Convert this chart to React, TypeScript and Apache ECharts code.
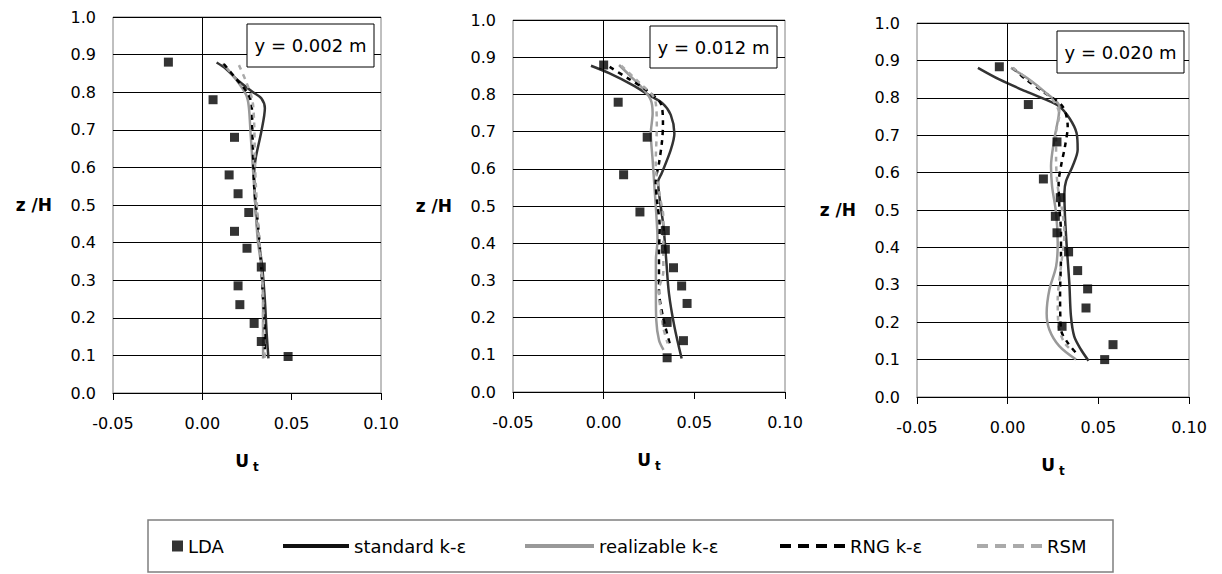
import React, { useEffect, useRef } from "react";
import * as echarts from "echarts";

// ---- data: [U_t, z/H] pairs ----
const panelTitles = ["y = 0.002 m", "y = 0.012 m", "y = 0.020 m"];
const seriesNames = ["LDA", "standard k-ε", "realizable k-ε", "RNG k-ε", "RSM"];
const xTicks = { min: -0.05, max: 0.1, interval: 0.05 };
const yTicks = { min: 0, max: 1, interval: 0.1 };

const lda1 = [[-0.019, 0.88], [0.006, 0.78], [0.018, 0.68], [0.015, 0.58], [0.02, 0.53], [0.026, 0.48], [0.018, 0.43], [0.025, 0.385], [0.033, 0.335], [0.02, 0.285], [0.021, 0.235], [0.029, 0.185], [0.033, 0.137], [0.048, 0.097]];
const std1 = [[0.008, 0.879], [0.013, 0.863], [0.019, 0.835], [0.028, 0.801], [0.033, 0.784], [0.035, 0.757], [0.033, 0.695], [0.03, 0.628], [0.029, 0.584], [0.0295, 0.513], [0.031, 0.425], [0.0335, 0.336], [0.035, 0.247], [0.036, 0.159], [0.037, 0.092]];
const real1 = [[0.0115, 0.876], [0.019, 0.833], [0.0245, 0.793], [0.026, 0.762], [0.027, 0.691], [0.028, 0.62], [0.029, 0.549], [0.03, 0.478], [0.031, 0.407], [0.033, 0.336], [0.034, 0.247], [0.034, 0.159], [0.034, 0.092]];
const rng1 = [[0.012, 0.875], [0.019, 0.835], [0.025, 0.8], [0.0275, 0.77], [0.028, 0.7], [0.0285, 0.62], [0.029, 0.55], [0.0305, 0.48], [0.032, 0.4], [0.033, 0.33], [0.034, 0.25], [0.035, 0.16], [0.035, 0.095]];
const rsm1 = [[0.0205, 0.872], [0.0245, 0.828], [0.028, 0.779], [0.029, 0.718], [0.0295, 0.61], [0.03, 0.549], [0.0315, 0.43], [0.033, 0.336], [0.034, 0.25], [0.034, 0.16], [0.035, 0.094]];

const lda2 = [[0.0, 0.879], [0.008, 0.779], [0.024, 0.685], [0.011, 0.584], [0.02, 0.484], [0.034, 0.434], [0.034, 0.384], [0.0385, 0.334], [0.043, 0.285], [0.046, 0.238], [0.035, 0.187], [0.044, 0.138], [0.035, 0.092]];
const std2 = [[-0.007, 0.877], [0.003, 0.857], [0.016, 0.825], [0.025, 0.798], [0.0325, 0.776], [0.037, 0.745], [0.039, 0.695], [0.037, 0.651], [0.032, 0.588], [0.03, 0.565], [0.031, 0.516], [0.033, 0.444], [0.0345, 0.355], [0.036, 0.265], [0.039, 0.176], [0.043, 0.09]];
const real2 = [[0.0085, 0.879], [0.015, 0.848], [0.0215, 0.816], [0.026, 0.785], [0.027, 0.749], [0.026, 0.695], [0.027, 0.624], [0.028, 0.552], [0.029, 0.48], [0.0297, 0.409], [0.0288, 0.355], [0.0288, 0.265], [0.029, 0.194], [0.0305, 0.14], [0.033, 0.113]];
const rng2 = [[0.0033, 0.874], [0.0134, 0.843], [0.0235, 0.812], [0.0318, 0.772], [0.0327, 0.718], [0.0321, 0.67], [0.0305, 0.615], [0.0287, 0.565], [0.0294, 0.516], [0.0309, 0.444], [0.0305, 0.373], [0.0305, 0.274], [0.0327, 0.202], [0.0364, 0.131]];
const rsm2 = [[0.0097, 0.877], [0.02, 0.83], [0.0284, 0.785], [0.0293, 0.713], [0.0287, 0.615], [0.031, 0.525], [0.0329, 0.471], [0.0329, 0.323], [0.0305, 0.274], [0.0327, 0.177], [0.0353, 0.131]];

const lda3 = [[-0.0046, 0.883], [0.0114, 0.782], [0.0272, 0.682], [0.0197, 0.583], [0.029, 0.533], [0.0263, 0.483], [0.0272, 0.439], [0.0336, 0.388], [0.0386, 0.338], [0.0441, 0.289], [0.0432, 0.238], [0.03, 0.189], [0.0581, 0.14], [0.0535, 0.1]];
const std3 = [[-0.0164, 0.88], [-0.0046, 0.849], [0.0101, 0.817], [0.0211, 0.795], [0.0285, 0.777], [0.034, 0.746], [0.038, 0.706], [0.0386, 0.661], [0.0358, 0.617], [0.0322, 0.577], [0.0313, 0.546], [0.0316, 0.483], [0.0327, 0.394], [0.034, 0.305], [0.0349, 0.216], [0.0367, 0.162], [0.0404, 0.127], [0.0446, 0.097]];
const real3 = [[0.0018, 0.88], [0.0119, 0.849], [0.0211, 0.813], [0.0285, 0.777], [0.0281, 0.751], [0.0257, 0.688], [0.0239, 0.617], [0.0245, 0.563], [0.0267, 0.492], [0.0276, 0.411], [0.0267, 0.349], [0.023, 0.287], [0.0215, 0.224], [0.023, 0.18], [0.0285, 0.136], [0.0377, 0.1]];
const rng3 = [[0.0028, 0.88], [0.0101, 0.849], [0.0193, 0.817], [0.0303, 0.777], [0.0331, 0.723], [0.0316, 0.67], [0.0294, 0.617], [0.0281, 0.572], [0.0285, 0.51], [0.0294, 0.439], [0.0294, 0.376], [0.0289, 0.278], [0.0294, 0.18], [0.0331, 0.145], [0.0377, 0.118]];
const rsm3 = [[0.0028, 0.88], [0.0138, 0.84], [0.0248, 0.795], [0.0285, 0.755], [0.0267, 0.706], [0.0267, 0.635], [0.0276, 0.563], [0.0303, 0.492], [0.0313, 0.439], [0.0294, 0.349], [0.0276, 0.26], [0.0281, 0.189], [0.0313, 0.145], [0.036, 0.122]];

const panels = [
  { lda: lda1, std: std1, real: real1, rng: rng1, rsm: rsm1 },
  { lda: lda2, std: std2, real: real2, rng: rng2, rsm: rsm2 },
  { lda: lda3, std: std3, real: real3, rng: rng3, rsm: rsm3 },
];

const FONT = '"DejaVu Sans", Verdana, sans-serif';

// layout (pixels)
const grids = [
  { left: 113, top: 17, width: 268, height: 376 },
  { left: 513, top: 20, width: 272, height: 372 },
  { left: 917, top: 23, width: 272, height: 374 },
];
const boxes = [
  { x: 247, y: 24, w: 127, h: 43 },
  { x: 650, y: 26, w: 127, h: 42 },
  { x: 1057, y: 31, w: 127, h: 42 },
];
const legendPos = [
  { left: 172, w: 11 },
  { left: 281, w: 66 },
  { left: 523, w: 69 },
  { left: 778, w: 65 },
  { left: 975, w: 65 },
];

function fmt(v: number, d: number) {
  if (Math.abs(v) < 1e-9) v = 0;
  return v.toFixed(d);
}

export default function App() {
  const ref = useRef<HTMLDivElement>(null);
  useEffect(() => {
    if (!ref.current) return;
    const chart = echarts.init(ref.current, undefined, { renderer: "svg" });

    const xAxes: any[] = [];
    const yAxes: any[] = [];
    const series: any[] = [];
    const graphics: any[] = [];

    panels.forEach((p, i) => {
      xAxes.push({
        gridIndex: i,
        type: "value",
        min: xTicks.min,
        max: xTicks.max,
        interval: xTicks.interval,
        axisLine: { show: true, onZero: false, lineStyle: { color: "#000", width: 1 } },
        axisTick: { show: true, length: 7, lineStyle: { color: "#000" } },
        splitLine: { show: false },
        axisLabel: {
          margin: 22,
          fontSize: 16,
          fontFamily: FONT,
          color: "#000",
          formatter: (v: number) => fmt(v, 2),
        },
        name: "{u|U}{t|t}",
        nameLocation: "middle",
        nameGap: 56,
        nameTextStyle: {
          rich: {
            u: { fontSize: 17, fontWeight: "bold", fontFamily: FONT, color: "#000", lineHeight: 24 },
            t: { fontSize: 12, fontWeight: "bold", fontFamily: FONT, color: "#000", lineHeight: 12, verticalAlign: "bottom", padding: [0, 0, 0, 4] },
          },
        },
      });
      yAxes.push({
        gridIndex: i,
        type: "value",
        min: yTicks.min,
        max: yTicks.max,
        interval: yTicks.interval,
        axisLine: { show: false },
        axisTick: { show: false },
        splitLine: { show: true, lineStyle: { color: "#000", width: 1 } },
        axisLabel: {
          margin: 17,
          fontSize: 16,
          fontFamily: FONT,
          color: "#000",
          formatter: (v: number) => fmt(v, 1),
        },
        name: "z /H",
        nameLocation: "middle",
        nameRotate: 0,
        nameGap: 61,
        nameTextStyle: { fontSize: 17, fontWeight: "bold", fontFamily: FONT, color: "#000" },
      });

      series.push({
        name: seriesNames[1],
        type: "line",
        xAxisIndex: i,
        yAxisIndex: i,
        data: p.std,
        smooth: 0.3,
        symbol: "none",
        lineStyle: { color: "#333", width: 2.5 },
        itemStyle: { color: "#333" },
        markLine: {
          silent: true,
          symbol: ["none", "none"],
          label: { show: false },
          lineStyle: { color: "#000", width: 1, type: "solid" },
          data: [{ xAxis: 0 }],
        },
        z: 3,
      });
      series.push({
        name: seriesNames[2],
        type: "line",
        xAxisIndex: i,
        yAxisIndex: i,
        data: p.real,
        smooth: 0.3,
        symbol: "none",
        lineStyle: { color: "#999", width: 2.5 },
        itemStyle: { color: "#999" },
        z: 3,
      });
      series.push({
        name: seriesNames[3],
        type: "line",
        xAxisIndex: i,
        yAxisIndex: i,
        data: p.rng,
        smooth: 0.3,
        symbol: "none",
        lineStyle: { color: "#000", width: 2.5, type: [5, 5] },
        itemStyle: { color: "#000" },
        z: 3,
      });
      series.push({
        name: seriesNames[4],
        type: "line",
        xAxisIndex: i,
        yAxisIndex: i,
        data: p.rsm,
        smooth: 0.3,
        symbol: "none",
        lineStyle: { color: "#aaa", width: 2.5, type: [5, 5] },
        itemStyle: { color: "#aaa" },
        z: 3,
      });
      series.push({
        name: seriesNames[0],
        type: "scatter",
        xAxisIndex: i,
        yAxisIndex: i,
        data: p.lda,
        symbol: "rect",
        symbolSize: 9,
        itemStyle: { color: "#000" },
        z: 4,
      });

      const b = boxes[i];
      graphics.push({
        type: "rect",
        z: 100,
        shape: { x: b.x, y: b.y, width: b.w, height: b.h },
        style: { fill: "#fff", stroke: "#000", lineWidth: 1 },
      });
      graphics.push({
        type: "text",
        z: 101,
        x: b.x + b.w / 2,
        y: b.y + b.h / 2,
        style: {
          text: panelTitles[i],
          fontSize: 18,
          fontFamily: FONT,
          fill: "#000",
          align: "center",
          verticalAlign: "middle",
        },
      });
    });

    graphics.push({
      type: "rect",
      z: 0,
      shape: { x: 148, y: 520, width: 965, height: 52 },
      style: { fill: "none", stroke: "#7f7f7f", lineWidth: 1.5 },
    });

    const legends = seriesNames.map((n, k) => {
      const lp = legendPos[k];
      const base: any = {
        data: [n],
        left: lp.left,
        top: 537,
        padding: 0,
        itemGap: 0,
        itemWidth: lp.w,
        itemHeight: k === 0 ? 11 : 14,
        selectedMode: false,
        textStyle: { fontSize: 18, fontFamily: FONT, color: "#000" },
      };
      if (k === 0) {
        base.icon = "rect";
      } else {
        base.itemStyle = { color: "rgba(0,0,0,0)", borderWidth: 0, opacity: 0 };
      }
      if (k === 1) base.lineStyle = { width: 4, color: "#111", opacity: 1 };
      if (k === 2) base.lineStyle = { width: 4, color: "#999", opacity: 1 };
      if (k === 3) base.lineStyle = { width: 4, color: "#000", type: [11, 7], opacity: 1 };
      if (k === 4) base.lineStyle = { width: 4, color: "#aaa", type: [11, 7], opacity: 1 };
      return base;
    });

    chart.setOption({
      animation: false,
      backgroundColor: "#fff",
      grid: grids.map((g) => ({ ...g, show: true, borderColor: "#808080", borderWidth: 1, backgroundColor: "transparent" })),
      xAxis: xAxes,
      yAxis: yAxes,
      legend: legends,
      series,
      graphic: graphics,
    });
    return () => chart.dispose();
  }, []);

  return (
    <div
      ref={ref}
      style={{ position: "fixed", left: 0, top: 0, width: 1222, height: 574, background: "#fff" }}
    />
  );
}
